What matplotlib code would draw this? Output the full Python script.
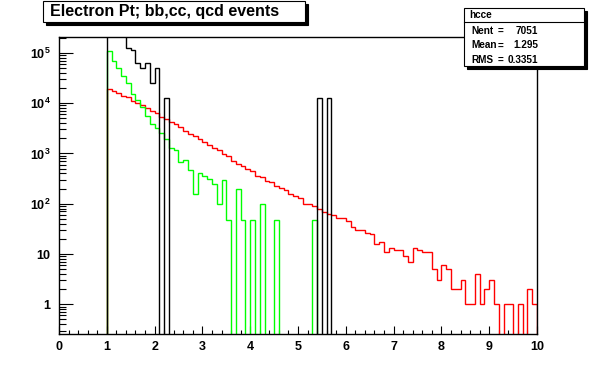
import numpy as np
import matplotlib
matplotlib.use("Agg")
import matplotlib.pyplot as plt
from matplotlib.patches import Rectangle
from matplotlib.ticker import FixedLocator, NullFormatter

plt.rcParams['font.family'] = ['Liberation Sans Narrow', 'Liberation Sans', 'DejaVu Sans']
plt.rcParams['mathtext.default'] = 'regular'

# histogram contents, bins of 0.1 starting at x = 1.0 (bins below 1.0 are empty)
bin_start = 1.0
bin_width = 0.1

# black histogram (hcce) - first bins run off the top of the frame
black_counts = [5.0e5, 4.0e5, 3.0e5, 2.5e5, 124000, 111600, 62000, 49600, 62000, 24800,
                49600, 0, 12400] + [0] * 31 + [12400, 0, 12400] + [0] * 43

green_counts = [107000, 70000, 50000, 35000, 25000, 15500, 11400, 8300, 5600, 3900,
                3250, 2500, 1950, 1300, 1150, 690, 750, 460, 155, 400,
                350, 305, 250, 100, 300, 48, 0, 200, 48, 0,
                48, 0, 100, 0, 0, 48, 0, 0, 0, 0,
                0, 0, 0, 48] + [0] * 46

red_counts = [18800, 17400, 16100, 14000, 13000, 11150, 10000, 9100, 8100, 6950,
              6280, 5220, 4780, 4270, 3800, 3309, 2757, 2460, 2188, 1906,
              1660, 1447, 1298, 1150, 987, 888, 697, 617, 555, 490,
              441, 356, 344, 279, 266, 225, 202, 186, 155, 140,
              132, 97, 97, 90, 78, 67, 62, 60, 52, 52,
              45, 34, 30, 30, 26, 25, 16, 17, 11, 13,
              12, 12, 9, 7, 13, 12, 11, 11, 5, 3,
              6, 5, 2, 2, 3, 1, 1, 4, 1, 2,
              3, 1, 0, 1, 1, 0, 1, 0, 2, 1]

title = "Electron Pt; bb,cc, qcd events"
stats_name = "hcce"
stats_rows = [("Nent", "7051"), ("Mean", "1.295"), ("RMS", "0.3351")]

y_major = [1, 10, 100, 1e3, 1e4, 1e5]
y_major_labels = ["1", "10", "$10^{2}$", "$10^{3}$", "$10^{4}$", "$10^{5}$"]

W, H = 596, 372
fig = plt.figure(figsize=(W / 100, H / 100), dpi=100)
fig.patch.set_facecolor("white")


def fx(px):
    return px / W


def fy(py):
    return 1 - py / H


ax = fig.add_axes([fx(59), fy(334), fx(537) - fx(59), fy(37) - fy(334)])
ax.set_yscale("log")

n = len(red_counts)
edges = bin_start + bin_width * np.arange(n + 1)
floor = 1e-3  # empty bins are drawn down below the frame, as ROOT does


def draw(counts, color, z):
    vals = np.array(counts, dtype=float)
    vals[vals <= 0] = floor
    ax.stairs(vals, edges, baseline=floor, color=color, lw=1.0, zorder=z)


draw(red_counts, "#ff0000", 3)
draw(green_counts, "#00ff00", 4)
draw(black_counts, "black", 5)

ax.set_xlim(0, 10)
ax.set_ylim(0.257, 2.06e5)

for s in ax.spines.values():
    s.set_linewidth(1.0)
    s.set_zorder(6)

ax.set_xticks(np.arange(0, 11, 1))
ax.set_xticks(np.arange(0, 10.01, 0.2), minor=True)
ax.set_xticklabels([str(i) for i in range(11)])
ax.yaxis.set_major_locator(FixedLocator(y_major))
ax.set_yticklabels(y_major_labels)
minor_y = [m * 10.0 ** e for e in range(-1, 6) for m in range(2, 10)]
ax.yaxis.set_minor_locator(FixedLocator(minor_y))
ax.yaxis.set_minor_formatter(NullFormatter())

ax.tick_params(axis="x", which="major", direction="in", length=5.8, width=0.8,
               pad=5, labelsize=9, top=False)
ax.tick_params(axis="x", which="minor", direction="in", length=2.9, width=0.8, top=False)
ax.tick_params(axis="y", which="major", direction="in", length=10, width=0.8,
               pad=6, labelsize=9, right=False)
ax.tick_params(axis="y", which="minor", direction="in", length=5, width=0.8, right=False)
for lab in ax.get_xticklabels() + ax.get_yticklabels():
    lab.set_fontweight("bold")


def box(x0, y0, x1, y1, shadow=3):
    fig.patches.append(Rectangle((fx(x0 + shadow), fy(y1 + shadow)), fx(x1) - fx(x0),
                                 fy(y0) - fy(y1), transform=fig.transFigure,
                                 facecolor="black", edgecolor="black", lw=0.8, zorder=10))
    fig.patches.append(Rectangle((fx(x0), fy(y1)), fx(x1) - fx(x0), fy(y0) - fy(y1),
                                 transform=fig.transFigure, facecolor="white",
                                 edgecolor="black", lw=0.8, zorder=11))


# title box
box(43, 1, 305, 22)
fig.text(fx(50), fy(11.5), title, fontsize=11.5, fontweight="bold", va="center",
         ha="left", zorder=12)

# stats box
box(464, 8, 584, 66)
fig.add_artist(plt.Line2D([fx(464), fx(584)], [fy(22), fy(22)], color="black",
                          lw=0.8, zorder=12))
fig.text(fx(469), fy(15), stats_name, fontsize=7.2, fontweight="bold", va="center",
         ha="left", zorder=12)
for i, (name, val) in enumerate(stats_rows):
    yy = fy(31 + 14.5 * i)
    fig.text(fx(471), yy, name, fontsize=7.2, fontweight="bold", va="center", zorder=12)
    fig.text(fx(500), yy, "=", fontsize=7.2, fontweight="bold", va="center",
             ha="center", zorder=12)
    fig.text(fx(538), yy, val, fontsize=7.2, fontweight="bold", va="center",
             ha="right", zorder=12)

fig.savefig("out.png", dpi=100)
